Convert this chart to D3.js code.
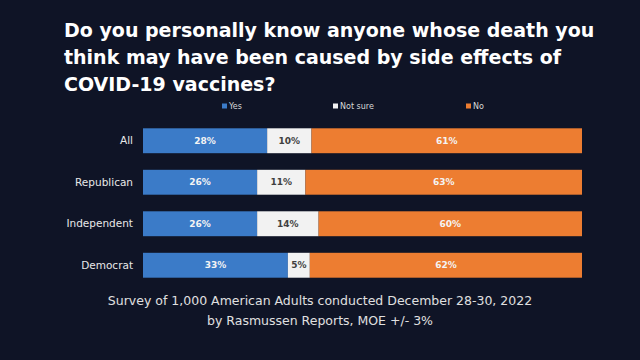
<!DOCTYPE html>
<html><head><meta charset="utf-8">
<script src="https://cdn.jsdelivr.net/npm/d3@7"></script>
<style>html,body{margin:0;padding:0;background:#0f1426;}svg{display:block;}</style>
</head><body>
<svg id="chart" width="640" height="360"></svg>
<script>
const categories = ["All", "Republican", "Independent", "Democrat"];
const seriesNames = ["Yes", "Not sure", "No"];
const yesValues = [28, 26, 26, 33];
const notSureValues = [10, 11, 14, 5];
const noValues = [61, 63, 60, 62];
const titleLines = ["Do you personally know anyone whose death you", "think may have been caused by side effects of", "COVID-19 vaccines?"];
const footerLines = ["Survey of 1,000 American Adults conducted December 28-30, 2022", "by Rasmussen Reports, MOE +/- 3%"];

const colors = {"Yes": "#3b7bc8", "Not sure": "#f2f2f2", "No": "#ed7d31"};
const labelColors = {"Yes": "#f4f4f4", "Not sure": "#404040", "No": "#f4f4f4"};
const rows = categories.map((c, i) => ({cat: c, "Yes": yesValues[i], "Not sure": notSureValues[i], "No": noValues[i]}));

const svg = d3.select("#chart");
svg.append("rect").attr("width", 640).attr("height", 360).attr("fill", "#0f1426");

const font = "'DejaVu Sans', Verdana, sans-serif";

svg.append("g").selectAll("text").data(titleLines).join("text")
  .attr("x", 64).attr("y", (d, i) => 37 + i * 27)
  .attr("fill", "#ffffff").attr("font-family", font).attr("font-size", 19).attr("font-weight", "bold")
  .text(d => d);

const x = d3.scaleLinear().domain([0, 1]).range([143, 582]);
const y = d3.scaleBand().domain(categories).range([120, 286]).paddingInner(0.4).paddingOuter(0.2);

const stack = d3.stack().keys(seriesNames).offset(d3.stackOffsetExpand);
const layers = stack(rows);

const g = svg.append("g");
layers.forEach(layer => {
  const key = layer.key;
  const lg = g.append("g");
  lg.selectAll("rect").data(layer).join("rect")
    .attr("x", d => x(d[0])).attr("y", d => y(d.data.cat))
    .attr("width", d => x(d[1]) - x(d[0])).attr("height", y.bandwidth())
    .attr("fill", colors[key]);
  lg.selectAll("text").data(layer).join("text")
    .attr("x", d => (x(d[0]) + x(d[1])) / 2).attr("y", d => y(d.data.cat) + y.bandwidth() / 2)
    .attr("dy", "0.35em").attr("text-anchor", "middle")
    .attr("fill", labelColors[key]).attr("font-family", font).attr("font-size", 9).attr("font-weight", "bold")
    .text(d => d.data[key] + "%");
});

const yAxis = d3.axisLeft(y).tickSize(0).tickPadding(10);
const ya = svg.append("g").attr("transform", "translate(143,0)").call(yAxis);
ya.select(".domain").remove();
ya.selectAll("text").attr("fill", "#e8e8e8").attr("font-family", font).attr("font-size", 10.5);

const legendX = [224, 335, 468];
const leg = svg.append("g").selectAll("g").data(seriesNames).join("g")
  .attr("transform", (d, i) => `translate(${legendX[i]},106)`);
leg.append("rect").attr("x", -2).attr("y", -2.5).attr("width", 5).attr("height", 5).attr("fill", d => colors[d]);
leg.append("text").attr("x", 5).attr("dy", "0.35em").attr("fill", "#d8d8d8")
  .attr("font-family", font).attr("font-size", 8).text(d => d);

svg.append("g").selectAll("text").data(footerLines).join("text")
  .attr("x", 320).attr("y", (d, i) => 305 + i * 20).attr("text-anchor", "middle")
  .attr("fill", "#e0e0e0").attr("font-family", font).attr("font-size", 12.5)
  .text(d => d);
</script>
</body></html>
